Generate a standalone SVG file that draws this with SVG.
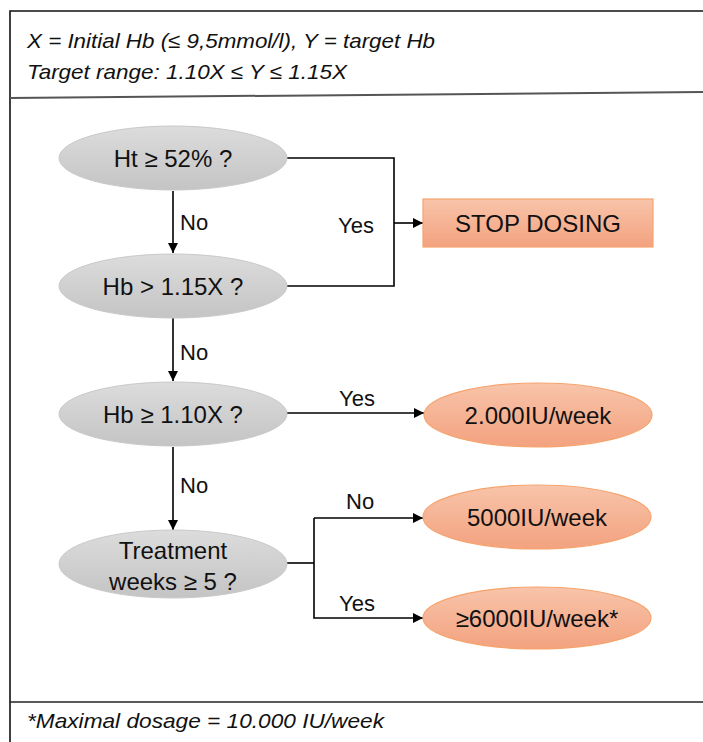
<svg xmlns="http://www.w3.org/2000/svg" width="703" height="742" viewBox="0 0 703 742">
<defs>
<linearGradient id="gGray" x1="0" y1="0" x2="0" y2="1">
<stop offset="0" stop-color="#dcdcdc"/>
<stop offset="1" stop-color="#c4c4c4"/>
</linearGradient>
<linearGradient id="gOrange" x1="0" y1="0" x2="0" y2="1">
<stop offset="0" stop-color="#f8c4aa"/>
<stop offset="1" stop-color="#f3a27f"/>
</linearGradient>
<marker id="arr" viewBox="0 0 10 10" refX="10" refY="5" markerWidth="10" markerHeight="10" markerUnits="userSpaceOnUse" orient="auto">
<path d="M0,0 L10,5 L0,10 z" fill="#000"/>
</marker>
<style>
.gray{fill:url(#gGray);stroke:#c9c9c9;stroke-width:1}
.orange{fill:url(#gOrange);stroke:#f5a46e;stroke-width:1.2}
.node{font-family:"Liberation Sans",Arial,sans-serif;font-size:24px;fill:#111;text-anchor:middle}
.lbl{font-family:"Liberation Sans",Arial,sans-serif;font-size:22px;fill:#111}
.note{font-family:"Liberation Sans",Arial,sans-serif;font-style:italic;font-size:21px;fill:#111}
.conn{fill:none;stroke:#000;stroke-width:1.6}
</style>
</defs>
<rect width="703" height="742" fill="#fff"/>
<g id="frame">
<path d="M10,742 L10,11 L703,11" fill="none" stroke="#111" stroke-width="1.6"/>
<line x1="10" y1="98" x2="703" y2="92" stroke="#555" stroke-width="2"/>
<line x1="10" y1="702" x2="703" y2="702" stroke="#222" stroke-width="1.6"/>
<text class="note" x="27" y="48" textLength="408" lengthAdjust="spacingAndGlyphs">X = Initial Hb (≤ 9,5mmol/l), Y = target Hb</text>
<text class="note" x="27" y="79" textLength="320" lengthAdjust="spacingAndGlyphs">Target range: 1.10X ≤ Y ≤ 1.15X</text>
<text class="note" x="27" y="728" textLength="357" lengthAdjust="spacingAndGlyphs">*Maximal dosage = 10.000 IU/week</text>
</g>
<g id="connectors">
<line class="conn" x1="173" y1="191" x2="173" y2="253" marker-end="url(#arr)"/>
<line class="conn" x1="173" y1="318" x2="173" y2="381" marker-end="url(#arr)"/>
<line class="conn" x1="173" y1="447" x2="173" y2="530" marker-end="url(#arr)"/>
<path class="conn" d="M287,158 H394 V286 H287"/>
<line class="conn" x1="394" y1="223" x2="423" y2="223" marker-end="url(#arr)"/>
<line class="conn" x1="287" y1="413" x2="424" y2="413" marker-end="url(#arr)"/>
<line class="conn" x1="287" y1="563" x2="314" y2="563"/>
<path class="conn" d="M314,518 V618 H423" marker-end="url(#arr)"/>
<line class="conn" x1="314" y1="518" x2="423" y2="518" marker-end="url(#arr)"/>
<text class="lbl" x="180" y="230">No</text>
<text class="lbl" x="180" y="360">No</text>
<text class="lbl" x="180" y="493">No</text>
<text class="lbl" x="338" y="233">Yes</text>
<text class="lbl" x="339" y="406">Yes</text>
<text class="lbl" x="346" y="509">No</text>
<text class="lbl" x="339" y="611">Yes</text>
</g>
<g id="ht">
<ellipse class="gray" cx="173" cy="158" rx="114" ry="32"/>
<text class="node" x="173" y="167">Ht ≥ 52% ?</text>
</g>
<g id="hb115">
<ellipse class="gray" cx="173" cy="286" rx="114" ry="32"/>
<text class="node" x="173" y="295">Hb &gt; 1.15X ?</text>
</g>
<g id="hb110">
<ellipse class="gray" cx="173" cy="414" rx="114" ry="32"/>
<text class="node" x="173" y="423">Hb ≥ 1.10X ?</text>
</g>
<g id="weeks">
<ellipse class="gray" cx="173" cy="564" rx="114" ry="34"/>
<text class="node" x="173" y="559">Treatment</text>
<text class="node" x="173" y="590">weeks ≥ 5 ?</text>
</g>
<g id="stop">
<rect class="orange" x="423" y="199" width="230" height="48"/>
<text class="node" x="538" y="232">STOP DOSING</text>
</g>
<g id="d2000">
<ellipse class="orange" cx="538" cy="415" rx="114" ry="32"/>
<text class="node" x="538" y="424">2.000IU/week</text>
</g>
<g id="d5000">
<ellipse class="orange" cx="537" cy="517" rx="114" ry="32"/>
<text class="node" x="537" y="526">5000IU/week</text>
</g>
<g id="d6000">
<ellipse class="orange" cx="537" cy="618" rx="114" ry="31"/>
<text class="node" x="537" y="627">≥6000IU/week*</text>
</g>
</svg>
